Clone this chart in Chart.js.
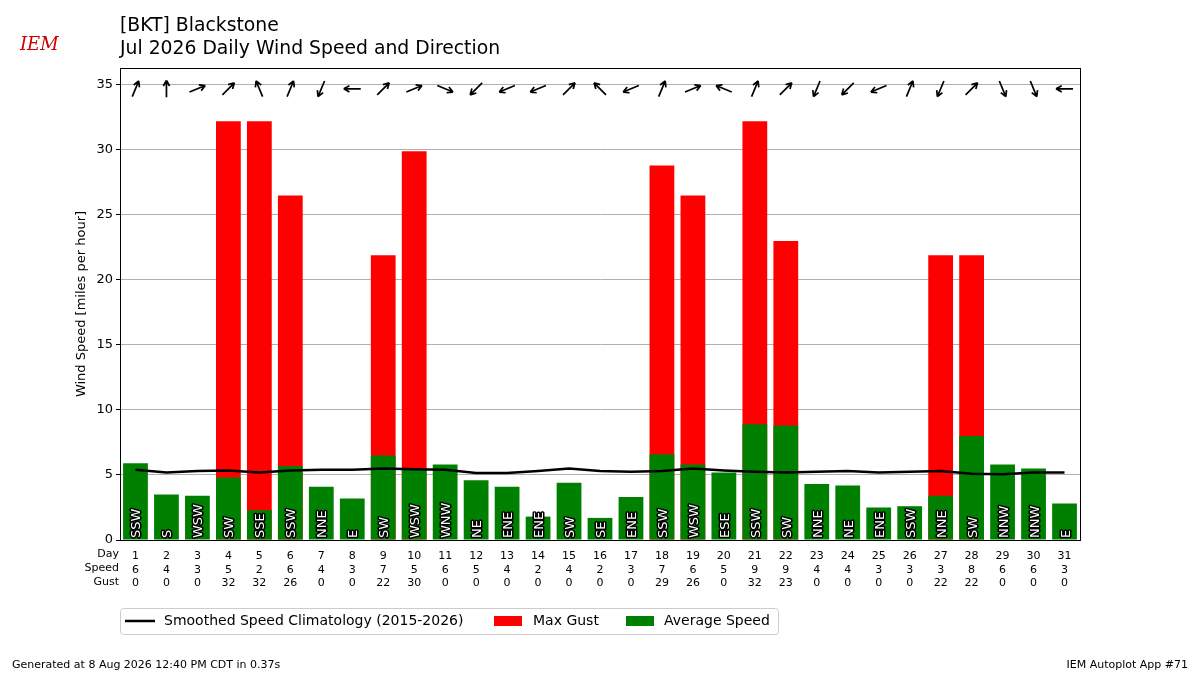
<!DOCTYPE html>
<html><head><meta charset="utf-8">
<script src="https://cdn.jsdelivr.net/npm/chart.js@4"></script>
<style>body{margin:0;background:#fff}#wrap{width:1200px;height:675px}</style>
</head><body><div id="wrap"><canvas id="c" width="1200" height="675"></canvas></div>
<script>
const days = [1,2,3,4,5,6,7,8,9,10,11,12,13,14,15,16,17,18,19,20,21,22,23,24,25,26,27,28,29,30,31];
const speedRounded = [6,4,3,5,2,6,4,3,7,5,6,5,4,2,4,2,3,7,6,5,9,9,4,4,3,3,3,8,6,6,3];
const gustRounded = [0,0,0,32,32,26,0,0,22,30,0,0,0,0,0,0,0,29,26,0,32,23,0,0,0,0,22,22,0,0,0];
const avgSpeed = [5.9,3.5,3.4,4.8,2.3,5.7,4.1,3.2,6.5,5.5,5.8,4.6,4.1,1.8,4.4,1.7,3.3,6.6,5.8,5.2,8.9,8.8,4.3,4.2,2.5,2.6,3.4,8.0,5.8,5.5,2.8];
const maxGust = [0,0,0,32.2,32.2,26.5,0,0,21.9,29.9,0,0,0,0,0,0,0,28.8,26.5,0,32.2,23.0,0,0,0,0,21.9,21.9,0,0,0];
const climo = [5.4,5.2,5.3,5.35,5.2,5.35,5.4,5.4,5.5,5.45,5.4,5.15,5.15,5.3,5.5,5.3,5.25,5.3,5.5,5.35,5.25,5.2,5.25,5.3,5.2,5.25,5.3,5.1,5.05,5.2,5.2];
const dirs = ["SSW","S","WSW","SW","SSE","SSW","NNE","E","SW","WSW","WNW","NE","ENE","ENE","SW","SE","ENE","SSW","WSW","ESE","SSW","SW","NNE","NE","ENE","SSW","NNE","SW","NNW","NNW","E"];
const compass = ["N","NNE","NE","ENE","E","ESE","SE","SSE","S","SSW","SW","WSW","W","WNW","NW","NNW"];

const labels = days.map((d,i) => [String(d), String(speedRounded[i]), String(gustRounded[i])]);
const FONT = "'DejaVu Sans', sans-serif";

const overlay = {
    id: "overlay",
    afterDatasetsDraw(chart) {
        const ctx = chart.ctx, x = chart.scales.x, y = chart.scales.y;
        ctx.save();
        ctx.font = "13px " + FONT;
        ctx.lineJoin = "round";
        dirs.forEach((d,i) => {
            const px = x.getPixelForValue(i);
            ctx.save();
            ctx.translate(px + 5, y.bottom - 2);
            ctx.rotate(-Math.PI/2);
            ctx.textAlign = "left";
            ctx.lineWidth = 3; ctx.strokeStyle = "#000"; ctx.strokeText(d, 0, 0);
            ctx.fillStyle = "#fff"; ctx.fillText(d, 0, 0);
            ctx.restore();
            // arrow showing where the wind blows to
            const ang = (compass.indexOf(d) * 22.5 + 180) * Math.PI / 180;
            const dx = Math.sin(ang), dy = -Math.cos(ang);
            const cy = y.getPixelForValue(34.7), L = 8.5;
            const x1 = px - dx*L, y1 = cy - dy*L, x2 = px + dx*L, y2 = cy + dy*L;
            ctx.strokeStyle = "#000"; ctx.lineWidth = 1.7;
            ctx.beginPath(); ctx.moveTo(x1,y1); ctx.lineTo(x2,y2);
            const a = Math.atan2(y2-y1, x2-x1);
            ctx.moveTo(x2,y2); ctx.lineTo(x2 - 6.5*Math.cos(a-0.5), y2 - 6.5*Math.sin(a-0.5));
            ctx.moveTo(x2,y2); ctx.lineTo(x2 - 6.5*Math.cos(a+0.5), y2 - 6.5*Math.sin(a+0.5));
            ctx.stroke();
        });
        ctx.restore();
    },
    afterDraw(chart) {
        const ctx = chart.ctx, a = chart.chartArea;
        ctx.save();
        ctx.strokeStyle = "#000"; ctx.lineWidth = 1;
        ctx.strokeRect(a.left + 0.5, a.top + 0.5, a.right - a.left, a.bottom - a.top);
        ctx.fillStyle = "#000";
        ctx.font = "11px " + FONT;
        ctx.textAlign = "right"; ctx.textBaseline = "middle";
        ["Day","Speed","Gust"].forEach((t,i) => ctx.fillText(t, 119, 554 + i*14));
        ctx.textAlign = "left"; ctx.textBaseline = "alphabetic";
        ctx.font = "18.8px " + FONT;
        ctx.fillText("[BKT] Blackstone", 120, 31);
        ctx.fillText("Jul 2026 Daily Wind Speed and Direction", 120, 54);
        ctx.font = "11px " + FONT;
        ctx.fillText("Generated at 8 Aug 2026 12:40 PM CDT in 0.37s", 12, 668);
        ctx.textAlign = "right";
        ctx.fillText("IEM Autoplot App #71", 1188, 668);
        // legend box
        ctx.strokeStyle = "#ccc"; ctx.lineWidth = 1;
        ctx.beginPath(); ctx.roundRect(120.5, 608.5, 658, 26, 3); ctx.stroke();
        ctx.textAlign = "left"; ctx.textBaseline = "middle"; ctx.font = "14px " + FONT;
        ctx.strokeStyle = "#000"; ctx.lineWidth = 2.5;
        ctx.beginPath(); ctx.moveTo(125, 621); ctx.lineTo(155, 621); ctx.stroke();
        ctx.fillStyle = "#000"; ctx.fillText("Smoothed Speed Climatology (2015-2026)", 164, 621);
        ctx.fillStyle = "#ff0000"; ctx.fillRect(494, 616, 28, 10);
        ctx.fillStyle = "#000"; ctx.fillText("Max Gust", 533, 621);
        ctx.fillStyle = "#008000"; ctx.fillRect(626, 616, 28, 10);
        ctx.fillStyle = "#000"; ctx.fillText("Average Speed", 664, 621);
        ctx.fillStyle = "#c00"; ctx.font = "italic 18px 'DejaVu Serif', serif";
        ctx.fillText("IEM", 20, 45);
        ctx.restore();
    }
};

new Chart(document.getElementById("c"), {
    type: "bar",
    data: {
        labels: labels,
        datasets: [
            { type: "line", label: "Smoothed Speed Climatology (2015-2026)", data: climo, borderColor: "#000", borderWidth: 2.5, pointRadius: 0, order: 0 },
            { label: "Average Speed", data: avgSpeed, backgroundColor: "#008000", grouped: false, barPercentage: 0.8, categoryPercentage: 1, order: 1 },
            { label: "Max Gust", data: maxGust, backgroundColor: "#ff0000", grouped: false, barPercentage: 0.8, categoryPercentage: 1, order: 2 },
        ],
    },
    options: {
        responsive: false,
        animation: false,
        layout: { padding: { top: 68, left: 70, right: 120, bottom: 85 } },
        plugins: { legend: { display: false }, tooltip: { enabled: false } },
        scales: {
            x: {
                grid: { display: false },
                border: { color: "#000" },
                ticks: { color: "#000", font: { family: FONT, size: 11 }, maxRotation: 0, autoSkip: false, padding: 2 },
                afterFit(s) { s.height = 50; },
            },
            y: {
                min: 0, max: 36.3,
                afterBuildTicks(s) { s.ticks = [0,5,10,15,20,25,30,35].map(v => ({ value: v })); },
                grid: { color: "#b0b0b0", tickColor: "#000", tickLength: 4 },
                border: { color: "#000" },
                ticks: { color: "#000", font: { family: FONT, size: 13 } },
                title: { display: true, text: "Wind Speed [miles per hour]", color: "#000", font: { family: FONT, size: 13 } },
                afterFit(s) { s.width = 50; },
            },
        },
    },
    plugins: [overlay],
});
</script></body></html>
